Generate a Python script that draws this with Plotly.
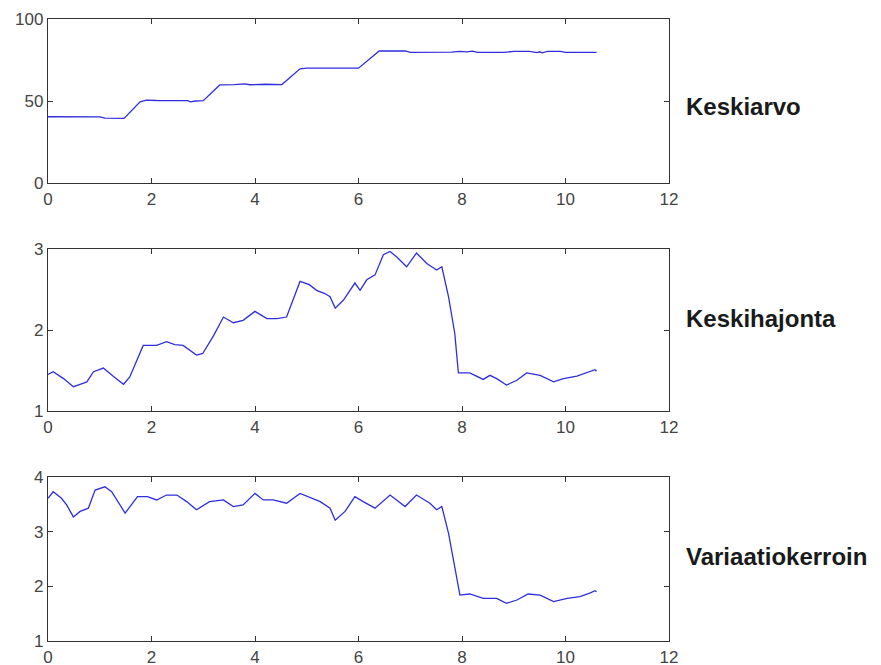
import plotly.graph_objects as go

# ---- data ----
t_mean = [0.0, 0.5, 1.0, 1.1, 1.47, 1.78, 1.9, 2.1, 2.5, 2.7, 2.75, 2.85, 3.0, 3.32, 3.6, 3.8, 3.9, 4.2, 4.52,
          4.87, 5.0, 5.5, 6.0, 6.4, 6.9, 7.0, 7.5, 7.8, 7.95, 8.1, 8.2, 8.3, 8.8, 9.0, 9.3, 9.45, 9.5, 9.55,
          9.65, 9.9, 10.0, 10.3, 10.45, 10.6]
mean_vals = [40.4, 40.4, 40.3, 39.6, 39.4, 49.5, 50.5, 50.3, 50.4, 50.2, 49.5, 50.0, 50.2, 59.8, 60.0, 60.5,
             59.9, 60.2, 60.0, 69.6, 70.0, 70.2, 70.0, 80.5, 80.6, 79.6, 79.7, 79.8, 80.3, 80.0, 80.4, 79.7,
             79.6, 80.2, 80.2, 79.5, 80.0, 79.4, 80.2, 80.3, 79.6, 79.7, 80.0, 79.6]

t_std = [0.0, 0.10, 0.30, 0.49, 0.62, 0.75, 0.88, 1.07, 1.26, 1.46, 1.58, 1.84, 2.10, 2.29, 2.45, 2.61,
         2.87, 2.99, 3.20, 3.39, 3.58, 3.77, 4.0, 4.23, 4.42, 4.61, 4.87, 5.05, 5.19, 5.35, 5.45, 5.55,
         5.71, 5.93, 6.03, 6.16, 6.32, 6.48, 6.61, 6.74, 6.93, 7.12, 7.32, 7.51, 7.61, 7.74, 7.86, 7.93,
         8.15, 8.41, 8.54, 8.67, 8.86, 9.06, 9.25, 9.51, 9.77, 9.96, 10.22, 10.41, 10.57, 10.6]
std_vals = [1.45, 1.485, 1.40, 1.30, 1.33, 1.36, 1.485, 1.53, 1.43, 1.33, 1.42, 1.81, 1.81, 1.855, 1.82, 1.81,
            1.69, 1.71, 1.93, 2.16, 2.09, 2.12, 2.23, 2.14, 2.14, 2.16, 2.60, 2.56, 2.49, 2.45, 2.41, 2.27,
            2.37, 2.58, 2.49, 2.62, 2.68, 2.93, 2.97, 2.90, 2.78, 2.95, 2.82, 2.74, 2.78, 2.41, 1.96, 1.47,
            1.47, 1.39, 1.44, 1.40, 1.32, 1.38, 1.47, 1.44, 1.36, 1.40, 1.43, 1.47, 1.51, 1.49]

t_cv = [0.0, 0.10, 0.26, 0.36, 0.49, 0.62, 0.78, 0.91, 1.10, 1.23, 1.49, 1.73, 1.92, 2.10, 2.29, 2.49,
        2.68, 2.87, 3.12, 3.39, 3.58, 3.77, 4.0, 4.16, 4.35, 4.61, 4.87, 5.26, 5.45, 5.55, 5.74, 5.93,
        6.09, 6.32, 6.61, 6.90, 7.12, 7.38, 7.51, 7.61, 7.74, 7.86, 7.96, 8.15, 8.41, 8.67, 8.86, 9.06,
        9.28, 9.51, 9.77, 10.03, 10.28, 10.48, 10.57, 10.6]
cv_vals = [3.61, 3.73, 3.61, 3.49, 3.27, 3.37, 3.43, 3.76, 3.82, 3.73, 3.34, 3.64, 3.64, 3.58, 3.67, 3.67,
           3.55, 3.40, 3.55, 3.58, 3.46, 3.49, 3.70, 3.58, 3.58, 3.52, 3.70, 3.55, 3.43, 3.21, 3.37, 3.64,
           3.55, 3.43, 3.67, 3.46, 3.67, 3.52, 3.40, 3.46, 2.97, 2.36, 1.84, 1.86, 1.78, 1.78, 1.69, 1.75,
           1.86, 1.84, 1.72, 1.78, 1.81, 1.88, 1.92, 1.90]

labels = ["Keskiarvo", "Keskihajonta", "Variaatiokerroin"]
x_ticks = [0, 2, 4, 6, 8, 10, 12]
y_ticks = [[0, 50, 100], [1, 2, 3], [1, 2, 3, 4]]
y_ranges = [[0, 100], [1, 3], [1, 4]]

# the page body adds an 8px offset, so figure coords = window coords - 8
OFF = 8
W, H = 881 - OFF, 665 - OFF


def px_x(p):
    return (p - OFF) / W


def px_y(p):
    return 1 - (p - OFF) / H


x_dom = [px_x(48), px_x(669)]
y_doms_px = [(19, 183), (249, 411), (477, 641)]
label_y_px = [106, 319, 556]

fig = go.Figure()
series = [(t_mean, mean_vals), (t_std, std_vals), (t_cv, cv_vals)]
line_color = "#2e2ee0"
for i, (tx, ty) in enumerate(series):
    fig.add_trace(go.Scatter(x=tx, y=ty, mode="lines",
                             line=dict(color=line_color, width=1.3),
                             xaxis=f"x{i+1 if i else ''}", yaxis=f"y{i+1 if i else ''}",
                             showlegend=False, hoverinfo="skip"))

axis_common = dict(showline=True, linecolor="#333333", linewidth=1.3, mirror="ticks",
                   ticks="inside", ticklen=5, tickwidth=1, tickcolor="#333333",
                   showgrid=False, zeroline=False, automargin=False,
                   tickfont=dict(family="Liberation Sans, Arial", size=17, color="#444444"))

layout = dict(width=W, height=H, margin=dict(l=0, r=0, t=0, b=0, autoexpand=False),
              paper_bgcolor="white", plot_bgcolor="white")
for i in range(3):
    top, bot = y_doms_px[i]
    suffix = str(i + 1) if i else ""
    layout[f"xaxis{suffix}"] = dict(domain=x_dom, range=[0, 12], tickvals=x_ticks,
                                    anchor=f"y{suffix}", **axis_common)
    layout[f"yaxis{suffix}"] = dict(domain=[px_y(bot), px_y(top)], range=y_ranges[i],
                                    tickvals=y_ticks[i], anchor=f"x{suffix}", **axis_common)
fig.update_layout(**layout)

for i, lab in enumerate(labels):
    fig.add_annotation(text=f"<b>{lab}</b>", xref="paper", yref="paper",
                       x=px_x(684), y=px_y(label_y_px[i]), xanchor="left", yanchor="middle",
                       showarrow=False,
                       font=dict(family="Liberation Sans, Arial", size=24, color="#1a1a1a"))

fig.write_html("out.html")
